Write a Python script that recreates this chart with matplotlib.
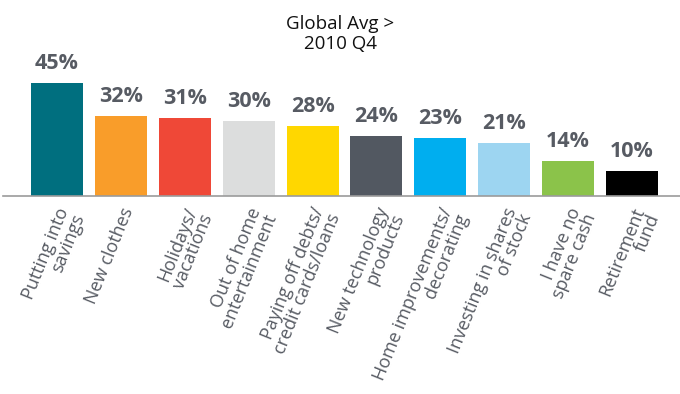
import matplotlib
matplotlib.use("Agg")
import matplotlib.pyplot as plt

# Spending intentions, global average, 2010 Q4
categories = [
    "Putting into\nsavings",
    "New clothes",
    "Holidays/\nvacations",
    "Out of home\nentertainment",
    "Paying off debts/\ncredit cards/loans",
    "New technology\nproducts",
    "Home improvements/\ndecorating",
    "Investing in shares\nof stock",
    "I have no\nspare cash",
    "Retirement\nfund",
]
values = [45, 32, 31, 30, 28, 24, 23, 21, 14, 10]
colors = ["#006f7f", "#f99d2a", "#ef4837", "#dcdddd", "#ffd700",
          "#525861", "#00aeef", "#9dd5f1", "#8bc34a", "#000000"]

title = "Global Avg >\n2010 Q4"
text_grey = "#575b63"

plt.rcParams["font.family"] = ["Open Sans", "DejaVu Sans"]

fig = plt.figure(figsize=(6.8, 3.94), dpi=100)
ax = fig.add_axes([3 / 680, 198 / 394, 677 / 680, 196 / 394])

x = list(range(len(values)))
ax.bar(x, values, width=0.814, color=colors, zorder=2)

ax.set_xlim(-0.845, 9.75)
ax.set_ylim(0, 78.06)

for side in ("top", "right", "left"):
    ax.spines[side].set_visible(False)
ax.spines["bottom"].set_color("#9b9b9b")
ax.spines["bottom"].set_linewidth(1.2)
ax.set_yticks([])
ax.set_xticks([])

# value labels above bars
for xi, v in zip(x, values):
    ax.annotate(f"{v}%", xy=(xi, v), xytext=(0, 9), textcoords="offset pixels",
                ha="center", va="bottom", fontsize=15.5, fontweight="bold",
                color=text_grey)

# rotated category labels under the baseline
for xi, lab in zip(x, categories):
    ax.annotate(lab, xy=(xi, 0), xytext=(-1, -9), textcoords="offset pixels",
                ha="right", va="top", rotation=68, rotation_mode="anchor",
                multialignment="right", fontsize=13, color=text_grey,
                linespacing=0.9)

fig.text(0.5, 1 - 34 / 394, title, ha="center", va="center", fontsize=13.5,
         color="#111111", linespacing=1.2)

fig.savefig("out.png", dpi=100)
